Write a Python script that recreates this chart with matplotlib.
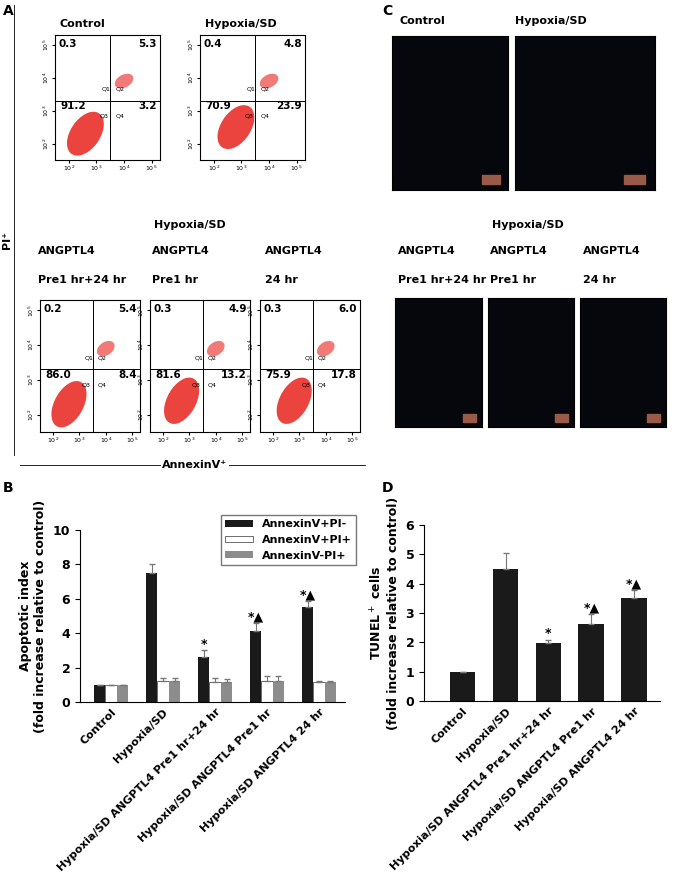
import matplotlib
matplotlib.use("Agg")
import matplotlib.pyplot as plt
import numpy as np
from matplotlib.patches import Ellipse

groups = ["Control", "Hypoxia/SD", "Hypoxia/SD ANGPTL4 Pre1 hr+24 hr",
          "Hypoxia/SD ANGPTL4 Pre1 hr", "Hypoxia/SD ANGPTL4 24 hr"]
ann_pi_neg = [1.0, 7.5, 2.6, 4.1, 5.5]
ann_pi_neg_err = [0.0, 0.55, 0.4, 0.5, 0.4]
ann_pi_pos = [1.0, 1.2, 1.15, 1.2, 1.15]
ann_pi_pos_err = [0.0, 0.2, 0.25, 0.3, 0.05]
annneg_pi_pos = [1.0, 1.2, 1.15, 1.2, 1.15]
annneg_pi_pos_err = [0.0, 0.2, 0.2, 0.3, 0.05]
tunel = [1.0, 4.5, 1.97, 2.62, 3.5]
tunel_err = [0.0, 0.55, 0.12, 0.35, 0.3]
b_marks = ["", "", "*", "*▲", "*▲"]

flow_titles = ["Control", "Hypoxia/SD", "", "", ""]
flow_q1 = ["0.3", "0.4", "0.2", "0.3", "0.3"]
flow_q2 = ["5.3", "4.8", "5.4", "4.9", "6.0"]
flow_q3 = ["91.2", "70.9", "86.0", "81.6", "75.9"]
flow_q4 = ["3.2", "23.9", "8.4", "13.2", "17.8"]

W, H = 675, 893
fig = plt.figure(figsize=(6.75, 8.93), dpi=100)

def ax_px(x0, y0, x1, y1):
    return fig.add_axes([x0 / W, 1 - y1 / H, (x1 - x0) / W, (y1 - y0) / H])

def ftext(x, y, s, **kw):
    fig.text(x / W, 1 - y / H, s, **kw)

bold = dict(fontweight="bold", family="DejaVu Sans")

# Panel letters
ftext(3, 15, "A", fontsize=10, **bold)
ftext(3, 492, "B", fontsize=10, **bold)
ftext(382, 15, "C", fontsize=10, **bold)
ftext(382, 492, "D", fontsize=10, **bold)

# Panel A frame lines
fig.add_artist(plt.Line2D([14 / W, 14 / W], [1 - 5 / H, 1 - 455 / H], color="k", lw=0.6))
fig.add_artist(plt.Line2D([20 / W, 365 / W], [1 - 465 / H, 1 - 465 / H], color="k", lw=0.6))
ftext(2, 240, "PI⁺", rotation=90, fontsize=8, va="center", **bold)
ftext(195, 465, "AnnexinV⁺", fontsize=8, ha="center", va="center",
      bbox=dict(fc="white", ec="none", pad=1), **bold)

flow_pos = [(55, 35, 160, 160), (200, 35, 305, 160),
            (40, 300, 140, 432), (150, 300, 250, 432), (260, 300, 360, 432)]
blob_centers = [(2.6, 2.3), (2.8, 2.5), (2.6, 2.3), (2.7, 2.4), (2.8, 2.4)]
for i, (x0, y0, x1, y1) in enumerate(flow_pos):
    a = ax_px(x0, y0, x1, y1)
    a.set_xlim(1.5, 5.3); a.set_ylim(1.5, 5.3)
    cx, cy = blob_centers[i]
    a.add_patch(Ellipse((cx, cy), 1.6, 1.0, angle=45, color="#e8221c", alpha=0.85, lw=0))
    a.add_patch(Ellipse((4.0, 3.9), 0.7, 0.4, angle=20, color="#e8221c", alpha=0.6, lw=0))
    a.axvline(3.5, color="k", lw=0.7); a.axhline(3.3, color="k", lw=0.7)
    a.set_xticks([2, 3, 4, 5]); a.set_yticks([2, 3, 4, 5])
    a.set_xticklabels(["10$^2$", "10$^3$", "10$^4$", "10$^5$"], fontsize=4.5)
    a.set_yticklabels(["10$^2$", "10$^3$", "10$^4$", "10$^5$"], fontsize=4.5, rotation=90, va="center")
    a.tick_params(length=2, pad=1)
    a.text(0.03, 0.97, flow_q1[i], transform=a.transAxes, fontsize=7.5, va="top", **bold)
    a.text(0.97, 0.97, flow_q2[i], transform=a.transAxes, fontsize=7.5, va="top", ha="right", **bold)
    a.text(0.05, 0.47, flow_q3[i], transform=a.transAxes, fontsize=7.5, va="top", **bold)
    a.text(0.97, 0.47, flow_q4[i], transform=a.transAxes, fontsize=7.5, va="top", ha="right", **bold)
    a.text(3.2, 3.6, "Q1", fontsize=4.5); a.text(3.7, 3.6, "Q2", fontsize=4.5)
    a.text(3.1, 2.8, "Q3", fontsize=4.5); a.text(3.7, 2.8, "Q4", fontsize=4.5)
    if flow_titles[i]:
        ftext(x0 + 5, y0 - 8, flow_titles[i], fontsize=8, **bold)

ftext(190, 228, "Hypoxia/SD", fontsize=8, ha="center", **bold)
for xs in (38, 150, 265):
    pass
for xs, s in zip((38, 152, 265), ("Pre1 hr+24 hr", "Pre1 hr", "24 hr")):
    ftext(xs, 254, "ANGPTL4", fontsize=8, **bold)
    ftext(xs, 283, s, fontsize=8, **bold)

# Panel C
ftext(400, 24, "Control", fontsize=8, **bold)
ftext(515, 24, "Hypoxia/SD", fontsize=8, **bold)
ftext(528, 228, "Hypoxia/SD", fontsize=8, ha="center", **bold)
for xs, s in zip((398, 490, 583), ("Pre1 hr+24 hr", "Pre1 hr", "24 hr")):
    ftext(xs, 254, "ANGPTL4", fontsize=8, **bold)
    ftext(xs, 283, s, fontsize=8, **bold)
img_pos = [(392, 36, 508, 190), (515, 36, 655, 190),
           (395, 298, 482, 427), (488, 298, 574, 427), (580, 298, 666, 427)]
for (x0, y0, x1, y1) in img_pos:
    a = ax_px(x0, y0, x1, y1)
    a.set_facecolor("#05070c"); a.set_xticks([]); a.set_yticks([])
    a.add_patch(plt.Rectangle((0.78, 0.04), 0.15, 0.06, transform=a.transAxes, color="#9a5a48"))

# Panel B
axb = ax_px(80, 530, 345, 702)
x = np.arange(len(groups))
w = 0.22
ek = dict(ecolor="#777777", capsize=2, elinewidth=0.8)
axb.bar(x - w, ann_pi_neg, w, yerr=[[0]*5, ann_pi_neg_err], color="#1a1a1a", label="AnnexinV+PI-", error_kw=ek)
axb.bar(x, ann_pi_pos, w, yerr=[[0]*5, ann_pi_pos_err], color="white", edgecolor="#555555", lw=0.6, label="AnnexinV+PI+", error_kw=ek)
axb.bar(x + w, annneg_pi_pos, w, yerr=[[0]*5, annneg_pi_pos_err], color="#8c8c8c", label="AnnexinV-PI+", error_kw=ek)
for i, m in enumerate(b_marks):
    if m:
        axb.text(x[i] - w, ann_pi_neg[i] + ann_pi_neg_err[i] + 0.15, m, ha="center", fontsize=9, **bold)
axb.set_ylim(0, 10); axb.set_yticks(range(0, 11, 2))
axb.set_xlim(-0.6, 4.5)
axb.set_xticks(x); axb.set_xticklabels(groups, rotation=45, ha="right", rotation_mode="anchor", fontsize=8, **bold)
for t in axb.get_yticklabels():
    t.set_fontweight("bold")
axb.tick_params(axis="y", labelsize=9)
axb.tick_params(axis="x", length=0)
axb.spines[["top", "right"]].set_visible(False)
axb.set_ylabel("Apoptotic index\n(fold increase relative to control)", fontsize=9, **bold)
leg = axb.legend(loc="upper right", bbox_to_anchor=(1.05, 1.1), fontsize=8, frameon=True, fancybox=False,
                 edgecolor="#555555", handlelength=2.5, handleheight=0.5, borderaxespad=0.2)
for t in leg.get_texts():
    t.set_fontweight("bold")

# Panel D
axd = ax_px(424, 525, 660, 701)
axd.bar(x, tunel, 0.6, yerr=[[0]*5, tunel_err], color="#1a1a1a", error_kw=ek)
for i, m in enumerate(b_marks):
    if m:
        axd.text(x[i], tunel[i] + tunel_err[i] + 0.08, m, ha="center", fontsize=9, **bold)
axd.set_ylim(0, 6); axd.set_yticks(range(0, 7))
axd.set_xlim(-0.9, 4.6)
axd.set_xticks(x); axd.set_xticklabels(groups, rotation=45, ha="right", rotation_mode="anchor", fontsize=8, **bold)
for t in axd.get_yticklabels():
    t.set_fontweight("bold")
axd.tick_params(axis="y", labelsize=9)
axd.tick_params(axis="x", length=0)
axd.spines[["top", "right"]].set_visible(False)
axd.set_ylabel("TUNEL$^+$ cells\n(fold increase relative to control)", fontsize=9, **bold)

fig.savefig("out.png", dpi=100)
